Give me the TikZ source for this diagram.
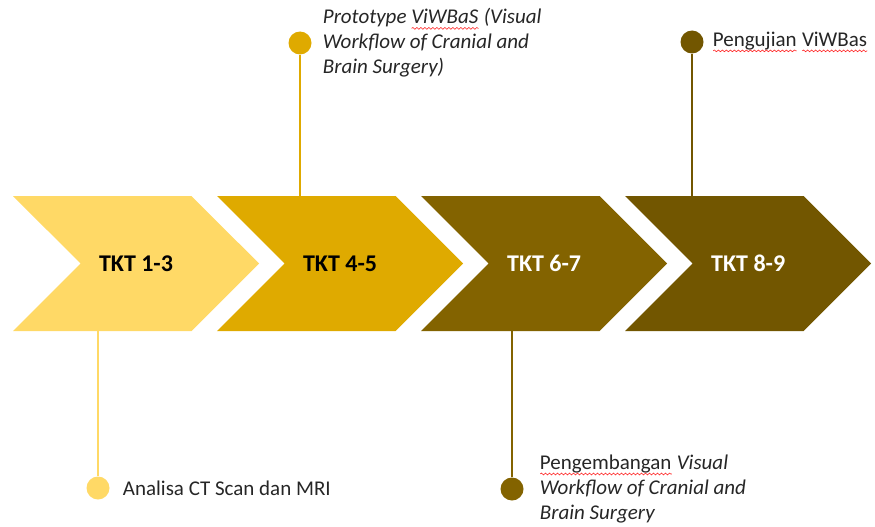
\documentclass[tikz,border=0pt]{standalone}
\usepackage{fontspec}
\setmainfont{Carlito}
\usepackage{tikz}
\usetikzlibrary{positioning,shapes.symbols,decorations.pathmorphing}

\definecolor{tktone}{HTML}{FFD966}
\definecolor{tkttwo}{HTML}{DFAA00}
\definecolor{tktthree}{HTML}{836300}
\definecolor{tktfour}{HTML}{725600}
\definecolor{notegray}{HTML}{262626}

% red wavy mark under words
\newsavebox{\spellbox}
\newcommand{\spellmark}[1]{\sbox{\spellbox}{#1}\rlap{\usebox{\spellbox}}%
  \tikz[baseline=0pt]\draw[red!85, line width=0.6pt, decorate,
    decoration={snake, amplitude=0.9pt, segment length=4pt}] (0pt,-4.5pt) -- (\wd\spellbox,-4.5pt);}

\begin{document}
\begin{tikzpicture}[x=1pt,y=-1pt]
    \tikzset{tkt node/.style = {signal, signal to=east, signal from=west, signal pointer angle=90,
        minimum width=246pt, minimum height=135pt, inner sep=0pt, font=\fontsize{24}{28}\selectfont\bfseries},
      stem dot/.style = {circle, minimum size=23pt, inner sep=0pt},
      stem/.style = {line width=1.8pt},
      note/.style = {inner sep=0pt, align=left, text=notegray, font=\fontsize{21}{25}\selectfont}}
    \useasboundingbox (0,0) rectangle (875,527);
    %% the four TKT stages
    \node[tkt node, fill=tktone] (t1) at (136,263.5) {TKT 1-3};
    \node[tkt node, fill=tkttwo] (t2) [right = 25pt of t1] {TKT 4-5};
    \node[tkt node, fill=tktthree, text=white] (t3) [right = 25pt of t2] {TKT 6-7};
    \node[tkt node, fill=tktfour, text=white] (t4) [right = 25pt of t3] {TKT 8-9};
    %% milestones
    \node[stem dot, fill=tktone] (d1) at (98,488) {};
    \node[stem dot, fill=tkttwo] (d2) at (300,43) {};
    \node[stem dot, fill=tktthree] (d3) at (512,489) {};
    \node[stem dot, fill=tktfour] (d4) at (692,42) {};
    \node[note] (n1) [right = 13pt of d1] {Analisa CT Scan dan MRI};
    \node[note, font=\fontsize{21}{25}\selectfont\itshape] (n2) [right = 11pt of d2]
      {Prototype \spellmark{ViWBaS} (Visual\\Workflow of Cranial and\\Brain Surgery)};
    \node[note] (n3) [right = 16pt of d3]
      {\spellmark{Pengembangan} \textit{Visual}\\\textit{Workflow of Cranial and}\\\textit{Brain Surgery}};
    \node[note] (n4) [right = 9pt of d4] {\spellmark{Pengujian} \spellmark{ViWBas}};
    \draw[stem, tktone] (d1.north) -- (d1.north |- t1.south);
    \draw[stem, tkttwo] (d2.south) -- (d2.south |- t2.north);
    \draw[stem, tktthree] (d3.north) -- (d3.north |- t3.south);
    \draw[stem, tktfour] (d4.south) -- (d4.south |- t4.north);
\end{tikzpicture}
\end{document}
